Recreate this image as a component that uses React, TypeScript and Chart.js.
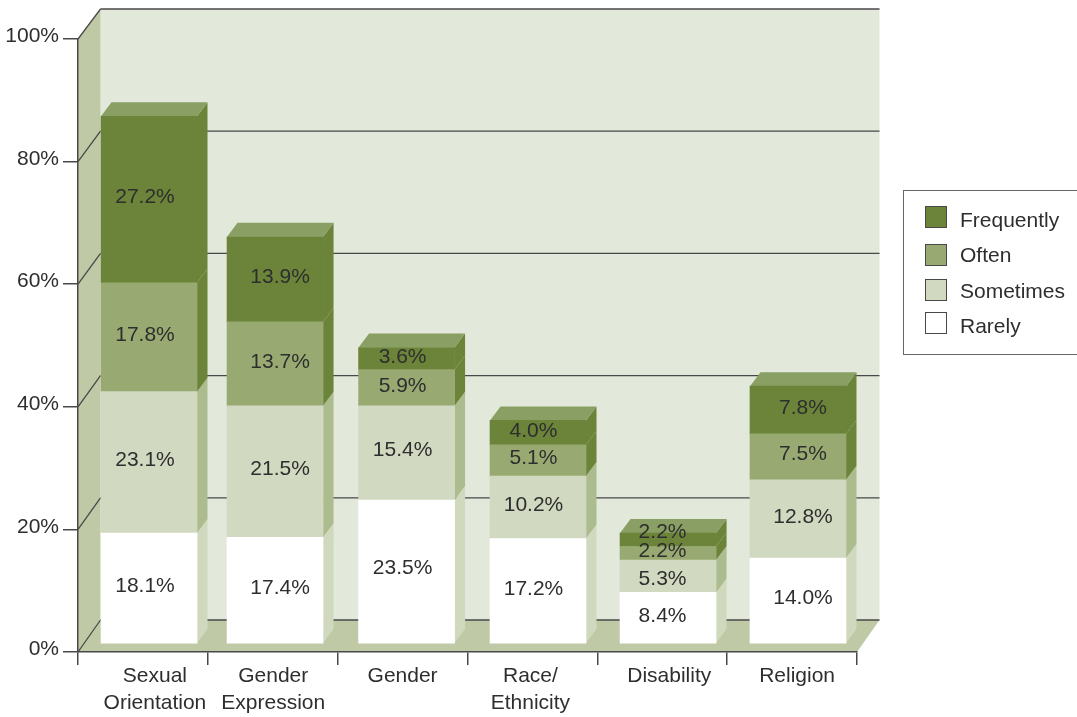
import React, { useEffect, useRef } from "react";
import { Chart, registerables } from "chart.js";

Chart.register(...registerables);

const categories = [
  ["Sexual", "Orientation"],
  ["Gender", "Expression"],
  ["Gender"],
  ["Race/", "Ethnicity"],
  ["Disability"],
  ["Religion"],
];
const seriesNames = ["Rarely", "Sometimes", "Often", "Frequently"];
const rarely = [18.1, 17.4, 23.5, 17.2, 8.4, 14.0];
const sometimes = [23.1, 21.5, 15.4, 10.2, 5.3, 12.8];
const often = [17.8, 13.7, 5.9, 5.1, 2.2, 7.5];
const frequently = [27.2, 13.9, 3.6, 4.0, 2.2, 7.8];
const seriesValues = [rarely, sometimes, often, frequently];
const yTicks = [0, 20, 40, 60, 80, 100];

const frontColors = ["#ffffff", "#d1d9c0", "#98aa72", "#6b8439"];
const sideColors = ["#d0d8be", "#adbc8e", "#6b8439", "#6b8439"];
const topColor = "#8a9f63";
const wallColor = "#e2e8da";
const sideWallColor = "#bfc9a6";
const lineColor = "#484848";
const textColor = "#2e2e2e";
const FONT = '21px "Liberation Sans", Arial, sans-serif';

// horizontal placement quirks of the reference, per category
const barNudge = [6.1, 2.3, 4, 5.6, 5.8, 5.9];
const valueLabelNudge = [-4, 5, -4, -4.5, -5.5, 5];
const axisLabelCentre = [12, 0.5, 0, -2, 7, 5];
// vertical label corrections where labels were hand-placed (series → per category)
const valueLift = [
  [0, 0, 1, 0, 0, 0],
  [0, 0, 1, 0, -5, 0],
  [0, 0, -1, 0, 0, 1],
  [0, 0, -1, -1, 6, 0],
];

const BAR_WIDTH = 96;
const BAR_LIFT = 8.2;
const BAR_RATIO = 6.12 / 6.13;
const BAR_DX = 10.5;
const BAR_DY = 14;
const WALL_DX = 22.5;
const WALL_LIFT = 32;
const WALL_RATIO = 6.11 / 6.13;

function poly(ctx: CanvasRenderingContext2D, pts: number[][], fill: string) {
  ctx.beginPath();
  pts.forEach((p, i) => (i ? ctx.lineTo(p[0], p[1]) : ctx.moveTo(p[0], p[1])));
  ctx.closePath();
  ctx.fillStyle = fill;
  ctx.fill();
}

function line(ctx: CanvasRenderingContext2D, x0: number, y0: number, x1: number, y1: number) {
  ctx.beginPath();
  ctx.moveTo(x0, y0);
  ctx.lineTo(x1, y1);
  ctx.strokeStyle = lineColor;
  ctx.lineWidth = 1.3;
  ctx.stroke();
}

const scene3d = {
  id: "scene3d",
  afterDatasetsUpdate(chart: any) {
    const zero = chart.scales.y.getPixelForValue(0);
    const place = (px: number) => zero - BAR_LIFT - (zero - px) * BAR_RATIO;
    chart.data.datasets.forEach((_: any, d: number) => {
      chart.getDatasetMeta(d).data.forEach((el: any, i: number) => {
        el.x += barNudge[i];
        el.y = place(el.y);
        el.base = place(el.base);
      });
    });
  },
  beforeDraw(chart: any) {
    const ctx = chart.ctx;
    const { x, y } = chart.scales;
    const left = x.left;
    const right = x.right;
    const zero = y.getPixelForValue(0);
    const back = (v: number) => zero - WALL_LIFT - (zero - y.getPixelForValue(v)) * WALL_RATIO;
    const bl = left + WALL_DX;
    const br = right + WALL_DX;
    ctx.save();
    poly(ctx, [[bl, back(100)], [br, back(100)], [br, back(0)], [bl, back(0)]], wallColor);
    poly(ctx, [[left, y.getPixelForValue(100)], [bl, back(100)], [bl, back(0)], [left, zero]], sideWallColor);
    poly(ctx, [[left, zero], [right, zero], [br, back(0)], [bl, back(0)]], sideWallColor);
    yTicks.forEach((v) => {
      line(ctx, left, y.getPixelForValue(v), bl, back(v));
      line(ctx, bl, back(v), br, back(v));
    });
    ctx.restore();
  },
  beforeDatasetsDraw(chart: any) {
    const ctx = chart.ctx;
    ctx.save();
    chart.data.datasets.forEach((_: any, d: number) => {
      chart.getDatasetMeta(d).data.forEach((el: any) => {
        const xr = el.x + BAR_WIDTH / 2;
        poly(ctx, [[xr, el.base], [xr + BAR_DX, el.base - BAR_DY], [xr + BAR_DX, el.y - BAR_DY], [xr, el.y]], sideColors[d]);
      });
    });
    const last = chart.data.datasets.length - 1;
    chart.getDatasetMeta(last).data.forEach((el: any) => {
      const xl = el.x - BAR_WIDTH / 2;
      const xr = el.x + BAR_WIDTH / 2;
      poly(ctx, [[xl, el.y], [xl + BAR_DX, el.y - BAR_DY], [xr + BAR_DX, el.y - BAR_DY], [xr, el.y]], topColor);
    });
    ctx.restore();
  },
  afterDatasetsDraw(chart: any) {
    const ctx = chart.ctx;
    const { x, y } = chart.scales;
    ctx.save();
    ctx.font = FONT;
    ctx.fillStyle = textColor;
    ctx.textAlign = "center";
    ctx.textBaseline = "middle";

    // value labels
    chart.data.datasets.forEach((ds: any, d: number) => {
      chart.getDatasetMeta(d).data.forEach((el: any, i: number) => {
        const mid = (el.y + el.base) / 2;
        ctx.fillText(`${ds.data[i].toFixed(1)}%`, el.x + valueLabelNudge[i], mid - 2 - valueLift[d][i]);
      });
    });

    // category labels
    const axisY = y.getPixelForValue(0);
    categories.forEach((lines, i) => {
      const cx = x.getPixelForValue(i) + axisLabelCentre[i];
      lines.forEach((t, k) => ctx.fillText(t, cx, axisY + 24 + k * 27));
    });

    // legend, top series first
    const boxL = 903;
    const boxT = 190.5;
    const boxB = 354.5;
    ctx.strokeStyle = "#666666";
    ctx.lineWidth = 1;
    ctx.strokeRect(boxL + 0.5, boxT, 1077, boxB - boxT);
    const swatchY = [206, 244, 279, 312];
    const textY = [221, 256, 292, 327];
    ctx.textAlign = "left";
    [...seriesNames].reverse().forEach((name, k) => {
      const c = frontColors[seriesNames.length - 1 - k];
      ctx.fillStyle = c;
      ctx.fillRect(925.5, swatchY[k] + 0.5, 21, 21);
      ctx.strokeStyle = lineColor;
      ctx.strokeRect(925.5, swatchY[k] + 0.5, 21, 21);
      ctx.fillStyle = textColor;
      ctx.fillText(name, 960, textY[k]);
    });
    ctx.restore();
  },
};

export default function App() {
  const ref = useRef<HTMLCanvasElement | null>(null);

  useEffect(() => {
    if (!ref.current) return;
    const chart = new Chart(ref.current, {
      type: "bar",
      plugins: [scene3d],
      data: {
        labels: categories.map((c) => c.join(" ")),
        datasets: seriesNames.map((name, d) => ({
          label: name,
          data: seriesValues[d],
          backgroundColor: frontColors[d],
          borderWidth: 0,
          barThickness: BAR_WIDTH,
        })),
      },
      options: {
        responsive: false,
        animation: false,
        layout: { padding: { left: 0, right: 220, top: 39, bottom: 0 } },
        plugins: { legend: { display: false }, tooltip: { enabled: false } },
        scales: {
          x: {
            stacked: true,
            afterFit: (s: any) => { s.height = 65; },
            border: { color: lineColor, width: 1.5 },
            grid: { drawOnChartArea: false, tickLength: 13, color: lineColor, lineWidth: 1.5, offset: true },
            ticks: { display: false },
          },
          y: {
            stacked: true,
            min: 0,
            max: 100,
            afterBuildTicks: (s: any) => { s.ticks = yTicks.map((value) => ({ value })); },
            afterFit: (s: any) => { s.width = 78; },
            border: { color: lineColor, width: 1.5 },
            grid: { drawOnChartArea: false, tickLength: 15, color: lineColor, lineWidth: 1.5 },
            ticks: {
              padding: 4,
              color: textColor,
              // the empty second line lifts each label slightly above its tick, as in the reference
              font: { family: '"Liberation Sans", Arial, sans-serif', size: 21, lineHeight: 0.25 },
              callback: (v: any) => [`${v}%`, ""],
            },
          },
        },
      },
    });
    return () => chart.destroy();
  }, []);

  return (
    <div style={{ position: "absolute", left: 0, top: 0, width: 1077, height: 717, overflow: "hidden", background: "#fff" }}>
      <canvas ref={ref} width={1077} height={717} style={{ display: "block" }} />
    </div>
  );
}
